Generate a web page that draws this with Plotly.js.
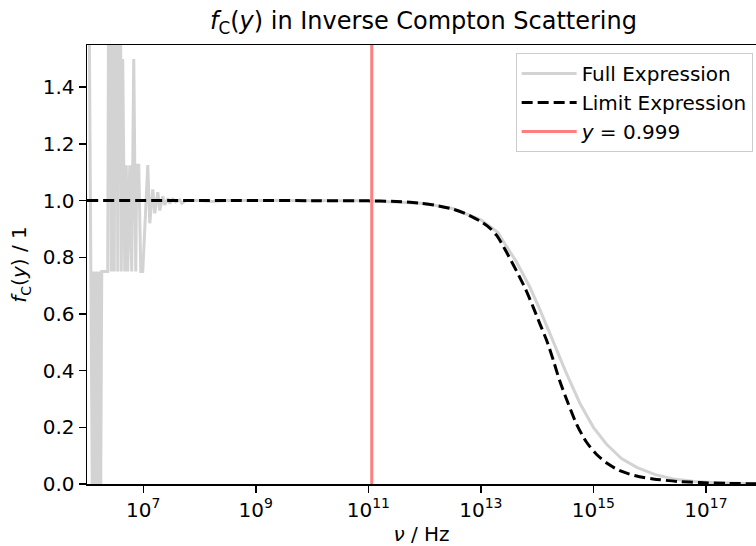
<!DOCTYPE html>
<html>
<head>
<meta charset="utf-8">
<script src="https://cdn.plot.ly/plotly-3.0.1.min.js"></script>
<style>html,body{margin:0;padding:0;background:#fff;overflow:hidden}#chart{width:756px;height:546px}</style>
</head>
<body>
<div id="chart"></div>
<script>
// Full expression (numerically noisy at low frequency)
const fullNu = [1.029e6, 1.164e6, 1.238e6, 1.315e6, 1.399e6, 1.489e6, 1.582e6, 1.683e6, 1.754e6, 1.828e6,
  1.982e6, 2.153e6, 2.335e6, 2.535e6, 2.697e6, 2.866e6, 3.048e6, 3.311e6, 3.516e6, 3.818e6,
  4.062e6, 4.315e6, 4.688e6, 4.985e6, 5.297e6, 5.753e6, 6.237e6, 6.776e6, 7.358e6, 7.656e6,
  8.318e6, 9.036e6, 9.795e6, 1.203e7, 1.306e7, 1.476e7, 1.603e7, 1.812e7, 1.966e7, 2.224e7,
  2.415e7, 2.731e7, 2.964e7, 3.350e7, 3.788e7, 4.464e7, 4.842e7, 5.702e7, 6.714e7, 9.886e7,
  1.725e8, 3.0e8, 1e9, 1e10, 1e11, 1e12, 3.16e12, 1e13, 2.0e13, 2.82e13,
  4.27e13, 7.41e13, 1.12e14, 1.91e14, 3.16e14, 5.75e14, 1.0e15, 1.70e15, 3.16e15, 5.89e15,
  1.26e16, 2.63e16, 6.31e16, 1.58e17, 7.9e17];
const fullF = [2.5, 0.75, 0, 0.75, 0, 0.75, 0, 0.75, 0, 0.75,
  0.75, 0.75, 0.75, 3.0, 0.75, 3.0, 0.75, 3.0, 0.75, 3.0,
  0.75, 1.5, 0.75, 1.125, 0.75, 1.125, 0.75, 1.5, 0.75, 1.125,
  1.125, 0.75, 0.75, 1.125, 0.92, 1.04, 0.955, 1.03, 0.965, 1.015,
  0.985, 1.008, 0.99, 1.005, 0.995, 1.002, 0.99, 1.0, 1.0, 1.0,
  0.997, 1.0, 1.0, 1.0, 0.999, 0.99, 0.972, 0.932, 0.888, 0.84,
  0.785, 0.695, 0.615, 0.505, 0.40, 0.285, 0.20, 0.141, 0.09, 0.059,
  0.033, 0.018, 0.009, 0.004, 0.001];

// Limit expression
const limitNu = [1e6, 1e8, 1e10, 1e11, 3.16e11, 7.94e11, 1.58e12, 3.16e12, 5.62e12, 1.0e13,
  1.41e13, 1.91e13, 2.82e13, 4.27e13, 6.31e13, 8.51e13, 1.12e14, 1.48e14, 1.95e14, 2.51e14,
  3.55e14, 5.01e14, 7.41e14, 1.12e15, 1.78e15, 2.95e15, 5.62e15, 1.15e16, 3.16e16, 7.94e16,
  2.51e17, 7.9e17];
const limitF = [1.0, 1.0, 0.9998, 0.999, 0.997, 0.991, 0.983, 0.970, 0.952, 0.926,
  0.905, 0.877, 0.82, 0.753, 0.685, 0.624, 0.565, 0.506, 0.435, 0.365,
  0.285, 0.212, 0.150, 0.106, 0.072, 0.047, 0.029, 0.018, 0.009, 0.005,
  0.002, 0.001];

// Frequency where y = 0.999
const markerNu = 1.15e11;
const markerSpan = [0, 2];

const xTickVals = [1e7, 1e9, 1e11, 1e13, 1e15, 1e17];
const xTickText = ['10<sup>7</sup>', '10<sup>9</sup>', '10<sup>11</sup>', '10<sup>13</sup>', '10<sup>15</sup>', '10<sup>17</sup>'];
const yTickVals = [0, 0.2, 0.4, 0.6, 0.8, 1.0, 1.2, 1.4];

const FONT = 'DejaVu Sans, sans-serif';
const FS = 20;

const traces = [
  {x: fullNu, y: fullF, type: 'scatter', mode: 'lines', name: 'Full Expression',
   line: {color: '#d3d3d3', width: 3}},
  {x: limitNu, y: limitF, type: 'scatter', mode: 'lines', name: 'Limit Expression',
   line: {color: '#000000', width: 3, dash: '11px,5px', shape: 'spline', smoothing: 0.8}},
  {x: [markerNu, markerNu], y: markerSpan, type: 'scatter', mode: 'lines', name: '<i>y</i> = 0.999',
   line: {color: '#ff7f7f', width: 3}}
];

const axisCommon = {
  showgrid: false, zeroline: false, showline: true, linecolor: '#000', linewidth: 1.5,
  ticks: 'outside', ticklen: 7, tickwidth: 1.5, tickcolor: '#000',
  tickfont: {family: FONT, size: FS, color: '#000'}
};

const layout = {
  width: 756, height: 546,
  margin: {l: 87, r: 0, t: 45, b: 62},
  paper_bgcolor: '#fff', plot_bgcolor: '#fff',
  font: {family: FONT, color: '#000'},
  title: {text: '<i>f</i><sub>C</sub>(<i>y</i>) in Inverse Compton Scattering',
    font: {family: FONT, size: 24, color: '#000'},
    x: 0.503, xref: 'paper', xanchor: 'center', y: 0.962, yref: 'container', yanchor: 'middle'},
  xaxis: Object.assign({}, axisCommon, {
    type: 'log', range: [6, 17.89], mirror: true,
    tickvals: xTickVals, ticktext: xTickText,
    title: {text: '<i>ν</i> / Hz', font: {family: FONT, size: FS, color: '#000'}, standoff: 7}
  }),
  yaxis: Object.assign({}, axisCommon, {
    range: [0, 1.549], tickvals: yTickVals, tickformat: '.1f',
    title: {text: '<i>f</i><sub>C</sub>(<i>y</i>) / 1', font: {family: FONT, size: FS, color: '#000'}, standoff: 10}
  }),
  showlegend: true,
  legend: {x: 0.995, xanchor: 'right', y: 0.982, yanchor: 'top',
    bgcolor: '#fff', bordercolor: '#cccccc', borderwidth: 1, itemwidth: 55,
    font: {family: FONT, size: FS, color: '#000'}}
};

Plotly.newPlot('chart', traces, layout, {staticPlot: true, displayModeBar: false});
</script>
</body>
</html>
